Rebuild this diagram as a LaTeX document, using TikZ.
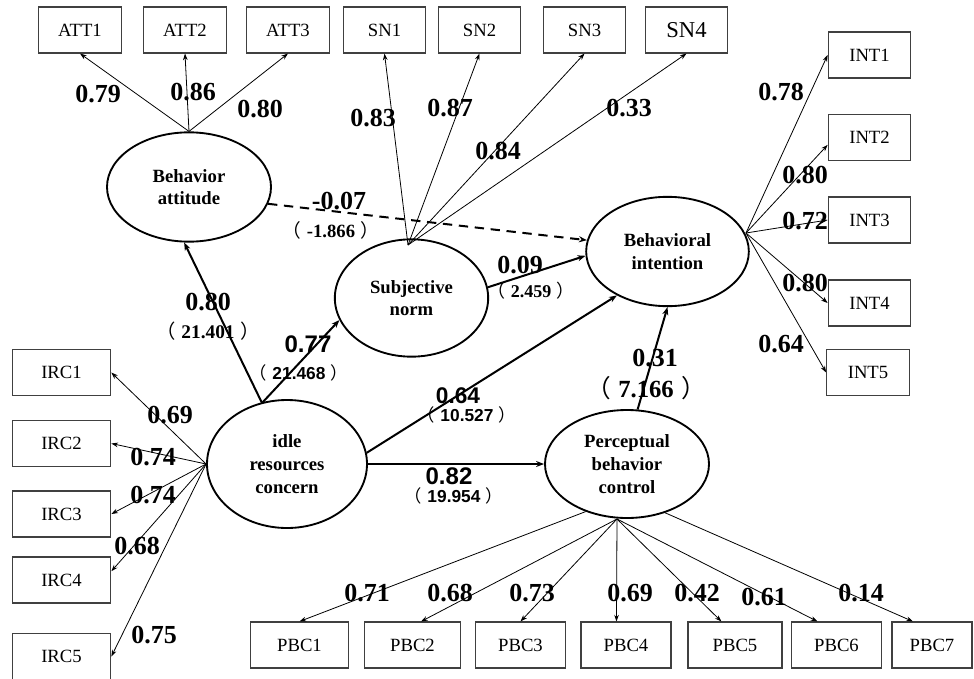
\documentclass[tikz,border=0pt]{standalone}
\usepackage{fontspec}
\setmainfont{Liberation Serif}
\newfontfamily\arialfont{Liberation Sans}
\newfontfamily\cjk{Noto Sans CJK SC}
\usetikzlibrary{shapes.geometric,arrows.meta}
\newcommand{\tv}[1]{{\cjk\mdseries （}\kern.3em#1\kern.3em{\cjk\mdseries ）}}

\begin{document}
\begin{tikzpicture}[x=0.75pt, y=-0.75pt,
  ind/.style={draw=black!75, line width=0.8pt, minimum height=34.5pt, minimum width=62pt, inner sep=0pt, font=\fontsize{14}{16}\selectfont},
  lat/.style={ellipse, draw, line width=1.4pt, inner sep=0pt, align=center, font=\fontsize{14}{17}\selectfont\bfseries},
  ld/.style={-{Stealth[length=5pt,width=3.5pt]}, line width=0.6pt},
  pth/.style={-{Stealth[length=6pt,width=4.5pt]}, line width=1.5pt},
  wt/.style={font=\fontsize{19.5}{20}\selectfont\bfseries, inner sep=0pt},
  wsans/.style={font=\arialfont\fontsize{18}{20}\selectfont\bfseries, inner sep=0pt},
  tval/.style={font=\fontsize{14}{15}\selectfont\bfseries, inner sep=0pt},
  tsans/.style={font=\arialfont\fontsize{13}{14}\selectfont\bfseries, inner sep=0pt}]
  \useasboundingbox (0,0) rectangle (974,678);
  \node[ind] (att1) at (80,30) {ATT1};
  \node[ind] (att2) at (185,30) {ATT2};
  \node[ind] (att3) at (288,30) {ATT3};
  \node[ind] (sn1) at (384.5,30) {SN1};
  \node[ind] (sn2) at (479.5,30) {SN2};
  \node[ind] (sn3) at (584.5,30) {SN3};
  \node[ind, font=\fontsize{17}{19}\selectfont] (sn4) at (686.5,30) {SN4};
  \node[ind] (int1) at (869.5,55) {INT1};
  \node[ind] (int2) at (869.5,137.5) {INT2};
  \node[ind] (int3) at (869.5,220) {INT3};
  \node[ind] (int4) at (869.5,303) {INT4};
  \node[ind] (int5) at (868,372.5) {INT5};
  \node[ind, minimum width=74pt] (irc1) at (61.5,372.5) {IRC1};
  \node[ind, minimum width=74pt] (irc2) at (61.5,443.5) {IRC2};
  \node[ind, minimum width=74pt] (irc3) at (61.5,514) {IRC3};
  \node[ind, minimum width=74pt] (irc4) at (61.5,580) {IRC4};
  \node[ind, minimum width=74pt] (irc5) at (61.5,656.5) {IRC5};
  \node[ind, minimum width=74pt] (pbc1) at (299.5,645) {PBC1};
  \node[ind, minimum width=72.5pt] (pbc2) at (412.5,645) {PBC2};
  \node[ind, minimum width=68pt] (pbc3) at (520.5,645) {PBC3};
  \node[ind, minimum width=67.5pt] (pbc4) at (626,645) {PBC4};
  \node[ind, minimum width=70.5pt] (pbc5) at (735,645) {PBC5};
  \node[ind, minimum width=68pt] (pbc6) at (836.5,645) {PBC6};
  \node[ind, minimum width=60pt] (pbc7) at (932,645) {PBC7};
  \node[lat, minimum width=123pt, minimum height=82pt] (ba) at (189,187) {Behavior\\attitude};
  \node[lat, minimum width=115pt, minimum height=88pt] (sn) at (411.5,298) {Subjective\\norm};
  \node[lat, minimum width=122pt, minimum height=82pt] (bi) at (667.5,251.5) {Behavioral\\intention};
  \node[lat, minimum width=120pt, minimum height=96pt] (irc) at (287,464) {idle\\resources\\concern};
  \node[lat, minimum width=123pt, minimum height=81pt] (pbc) at (627,464) {Perceptual\\behavior\\control};
  \coordinate (snO) at (408,245);
  \coordinate (biO) at (746,233);
  \coordinate (pbcO) at (617,519);
  \coordinate (ircT) at (262,403);
  \draw[ld] (ba.north) -- (att1.south);
  \draw[ld] (ba.north) -- (att2.south);
  \draw[ld] (ba.north) -- (att3.south);
  \draw[ld] (snO) -- (sn1.south);
  \draw[ld] (snO) -- (sn2.south);
  \draw[ld] (snO) -- (sn3.south);
  \draw[ld] (snO) -- (sn4.south);
  \draw[ld] (biO) -- (int1.west);
  \draw[ld] (biO) -- (int2.190);
  \draw[ld] (biO) -- (int3.west);
  \draw[ld] (biO) -- (int4.west);
  \draw[ld] (biO) -- (int5.west);
  \draw[ld] (irc.west) -- (irc1.east);
  \draw[ld] (irc.west) -- (irc2.east);
  \draw[ld] (irc.west) -- (irc3.east);
  \draw[ld] (irc.west) -- (irc4.10);
  \draw[ld] (irc.west) -- (irc5.east);
  \draw[ld] (pbc.229) -- (pbc1.north);
  \draw[ld] (pbcO) -- (pbc2.70);
  \draw[ld] (pbcO) -- (pbc3.north);
  \draw[ld] (pbcO) -- (pbc4.112);
  \draw[ld] (pbcO) -- (pbc5.120);
  \draw[ld] (pbcO) -- (pbc6.129);
  \draw[ld] (pbc.308) -- (pbc7.129);
  \draw[pth] (ircT) -- (ba.265);
  \draw[pth] (ircT) -- (sn.197);
  \draw[pth] (irc.8) -- (bi.221);
  \draw[pth] (irc.east) -- (pbc.west);
  \draw[pth] (pbc.79) -- (bi.south);
  \draw[pth] (sn.8) -- (bi.183);
  \draw[pth, dashed, dash pattern=on 7pt off 5pt] (ba.348) -- (bi.172);
  \node[wt] (wa1) at (98,94) {0.79};
  \node[wt] (wa2) at (193,92) {0.86};
  \node[wt] (wa3) at (260,109) {0.80};
  \node[wt] (ws1) at (373,118) {0.83};
  \node[wt] (ws2) at (450,108) {0.87};
  \node[wt] (ws3) at (498,151) {0.84};
  \node[wt] (ws4) at (629,108) {0.33};
  \node[wt] (wi1) at (781,92) {0.78};
  \node[wt] (wi2) at (805,175) {0.80};
  \node[wt] (wi3) at (805,221) {0.72};
  \node[wt] (wi4) at (805,283) {0.80};
  \node[wt] (wi5) at (781,344) {0.64};
  \node[wt] (wr1) at (170,415) {0.69};
  \node[wt] (wr2) at (153,457) {0.74};
  \node[wt] (wr3) at (153,495) {0.74};
  \node[wt] (wr4) at (137,546) {0.68};
  \node[wt] (wr5) at (154,635) {0.75};
  \node[wt] (wp1) at (367,593) {0.71};
  \node[wt] (wp2) at (450,593) {0.68};
  \node[wt] (wp3) at (532,593) {0.73};
  \node[wt] (wp4) at (630,593) {0.69};
  \node[wt] (wp5) at (697,593) {0.42};
  \node[wt] (wp6) at (764,597) {0.61};
  \node[wt] (wp7) at (861,593) {0.14};
  \node[wt] (pBaBi) at (339,201) {-0.07};
  \node[tval] (tBaBi) at (331,230) {\tv{-1.866}};
  \node[wt] (pIrcBa) at (208,302) {0.80};
  \node[tval, font=\fontsize{14.5}{15}\selectfont\bfseries] (tIrcBa) at (208,331) {\tv{21.401}};
  \node[wsans] (pIrcSn) at (308,344) {0.77};
  \node[tsans] (tIrcSn) at (299,373) {\tv{21.468}};
  \node[wsans, font=\arialfont\fontsize{17}{19}\selectfont\bfseries] (pIrcBi) at (458,396) {0.64};
  \node[tsans] (tIrcBi) at (467,415) {\tv{10.527}};
  \node[wsans] (pIrcPbc) at (449,476) {0.82};
  \node[tsans] (tIrcPbc) at (454,496) {\tv{19.954}};
  \node[wt] (pSnBi) at (520,265) {0.09};
  \node[tval, font=\fontsize{13.5}{15}\selectfont\bfseries] (tSnBi) at (531,291) {\tv{2.459}};
  \node[wt] (pPbcBi) at (655,358) {0.31};
  \node[tval, font=\fontsize{18.5}{20}\selectfont\bfseries] (tPbcBi) at (646,388) {\tv{7.166}};
\end{tikzpicture}
\end{document}
